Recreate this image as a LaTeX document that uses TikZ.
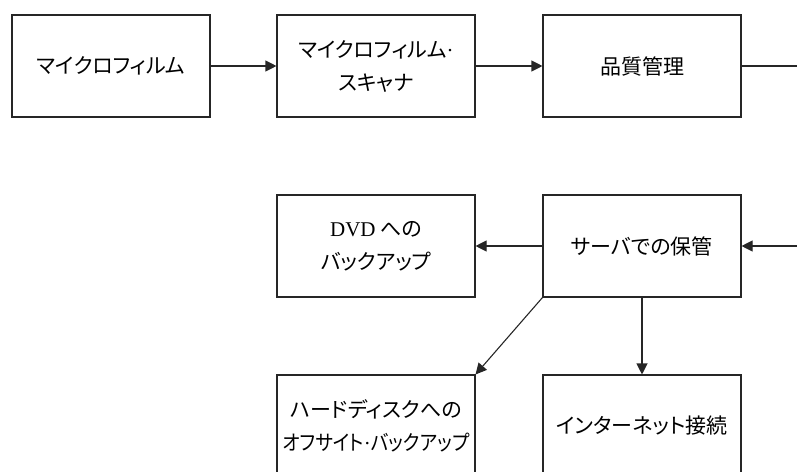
\documentclass[tikz,border=0pt]{standalone}
\usepackage{fontspec}
\setmainfont{Liberation Serif}
\newfontfamily\jp[RawFeature=+palt]{Noto Sans CJK JP}
\newfontfamily\jpn[RawFeature=+palt,FakeStretch=0.89]{Noto Sans CJK JP}
\newcommand{\ndot}{{\rmfamily\textperiodcentered}}
\usetikzlibrary{arrows.meta}
\tikzset{
  box/.style={draw=black!85, line width=1.1pt, minimum width=198pt, minimum height=102pt,
    inner sep=0pt, align=center, font=\jp\fontsize{21}{33}\selectfont},
  conn/.style={draw=black!85, line width=1.1pt},
  arr/.style={conn, -{Triangle[length=11pt,width=11pt]}}
}
\begin{document}
\begin{tikzpicture}[x=1pt,y=-1pt]
\useasboundingbox (0,0) rectangle (797,471);
\begin{scope}
\clip (0,0) rectangle (797,471);
\node[box] (mf) at (111,66) {マイクロフィルム};
\node[box] (sc) at (376,66) {マイクロフィルム\ndot\\スキャナ};
\node[box] (qc) at (642,66) {品質管理};
\node[box] (dvd) at (376,246) {{\rmfamily DVD} への\\バックアップ};
\node[box] (srv) at (642,246) {サーバでの保管};
\node[box] (hdd) at (376,426) {ハードディスクへの\\{\jpn オフサイト\ndot バックアップ}};
\node[box] (net) at (642,426) {インターネット接続};
\coordinate (r1) at (797,66);
\coordinate (r2) at (797,246);
\draw[arr] (mf) -- (sc);
\draw[arr] (sc) -- (qc);
\draw[conn] (qc.east) -- (r1);
\draw[arr] (r2) -- (srv.east);
\draw[arr] (srv) -- (dvd);
\draw[arr] (srv.south west) -- (hdd.north east);
\draw[arr] (srv) -- (net);
\end{scope}
\end{tikzpicture}
\end{document}
